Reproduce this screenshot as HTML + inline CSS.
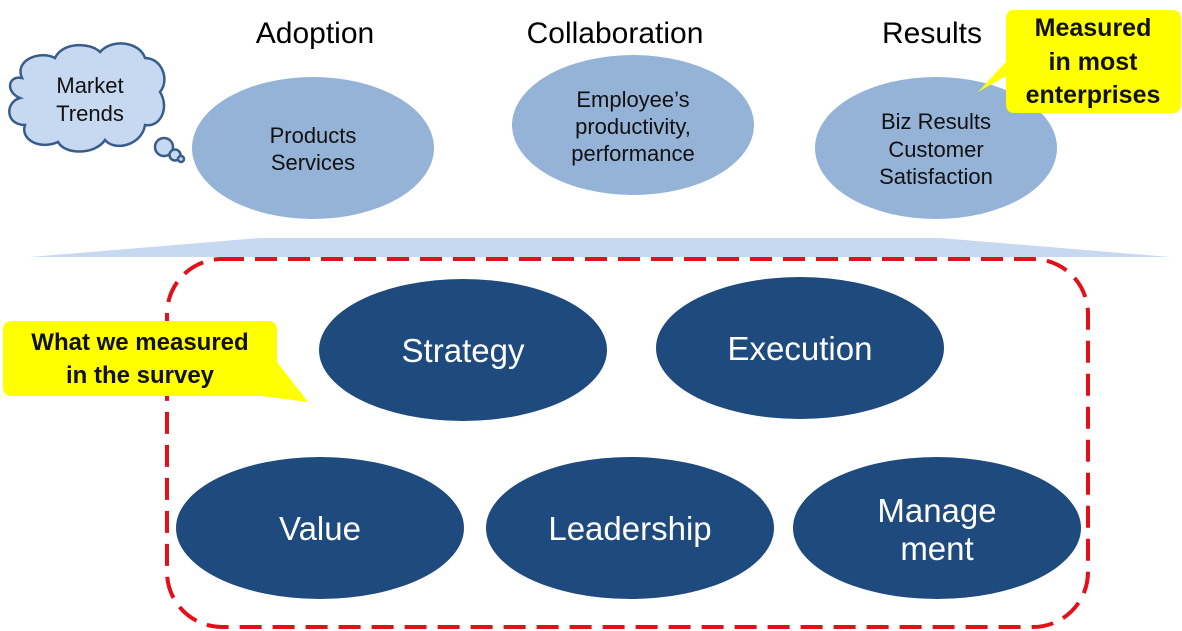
<!DOCTYPE html>
<html><head><meta charset="utf-8"><style>
html,body{margin:0;padding:0;background:#fff}
svg{display:block}
text{font-family:"Liberation Sans",sans-serif}
</style></head><body>
<svg width="1182" height="631" viewBox="0 0 1182 631" xmlns="http://www.w3.org/2000/svg">
<rect width="1182" height="631" fill="#fff"/>
<!-- band -->
<polygon points="30,257 260,238 940,238 1170,257" fill="#c6d9f0"/>
<!-- red dashed -->
<rect x="167" y="259" width="921" height="368" rx="55" fill="none" stroke="#e3101a" stroke-width="4" stroke-dasharray="22,11"/>
<!-- headers -->
<g font-size="30" fill="#000" text-anchor="middle">
<text x="315" y="43">Adoption</text>
<text x="615" y="43">Collaboration</text>
<text x="932" y="43">Results</text>
</g>
<!-- light ellipses -->
<g fill="#95b3d7">
<ellipse cx="313" cy="148" rx="121" ry="71"/>
<ellipse cx="633" cy="125" rx="121" ry="70"/>
<ellipse cx="936" cy="148" rx="121" ry="71"/>
</g>
<g font-size="22" fill="#111" text-anchor="middle">
<text x="313" y="143">Products</text>
<text x="313" y="170">Services</text>
<text x="633" y="107">Employee’s</text>
<text x="633" y="134">productivity,</text>
<text x="633" y="161">performance</text>
<text x="936" y="129">Biz Results</text>
<text x="936" y="157">Customer</text>
<text x="936" y="184">Satisfaction</text>
</g>
<!-- cloud -->
<g fill="#c6d9f0" stroke="#385d8a" stroke-width="2.5">
<path d="M22,78 C14,60 40,50 55,58 C62,42 90,42 100,52 C112,38 140,42 145,58 C162,58 170,80 160,92 C170,108 160,128 145,125 C142,145 115,152 105,140 C95,155 65,155 58,142 C40,150 20,140 25,125 C5,125 5,102 20,98 C5,92 8,75 22,78 Z"/>
<circle cx="164" cy="147" r="9"/>
<circle cx="175" cy="155" r="5.5"/>
<circle cx="181" cy="159" r="3"/>
</g>
<g font-size="22" fill="#111" text-anchor="middle">
<text x="90" y="93">Market</text>
<text x="90" y="121">Trends</text>
</g>
<!-- dark ellipses -->
<g fill="#1f4a7e">
<ellipse cx="463" cy="350" rx="144" ry="71"/>
<ellipse cx="800" cy="348" rx="144" ry="71"/>
<ellipse cx="320" cy="528" rx="144" ry="71"/>
<ellipse cx="630" cy="528" rx="144" ry="71"/>
<ellipse cx="937" cy="528" rx="144" ry="71"/>
</g>
<g font-size="33" fill="#fff" text-anchor="middle">
<text x="463" y="362">Strategy</text>
<text x="800" y="360">Execution</text>
<text x="320" y="540">Value</text>
<text x="630" y="540">Leadership</text>
<text x="937" y="522">Manage</text>
<text x="937" y="560">ment</text>
</g>
<!-- callouts -->
<path d="M1015,10 H1172 Q1181,10 1181,19 V104 Q1181,113 1172,113 H1015 Q1006,113 1006,104 V76 L978,92 L1006,62 V19 Q1006,10 1015,10 Z" fill="#ffff00"/>
<g font-size="25" font-weight="bold" fill="#111" text-anchor="middle">
<text x="1093" y="36">Measured</text>
<text x="1093" y="70">in most</text>
<text x="1093" y="103">enterprises</text>
</g>
<path d="M12,321 H268 Q277,321 277,330 V362 L308,402 L262,396 H12 Q3,396 3,387 V330 Q3,321 12,321 Z" fill="#ffff00"/>
<g font-size="24" font-weight="bold" fill="#111" text-anchor="middle">
<text x="140" y="350">What we measured</text>
<text x="140" y="383">in the survey</text>
</g>
</svg>
</body></html>
